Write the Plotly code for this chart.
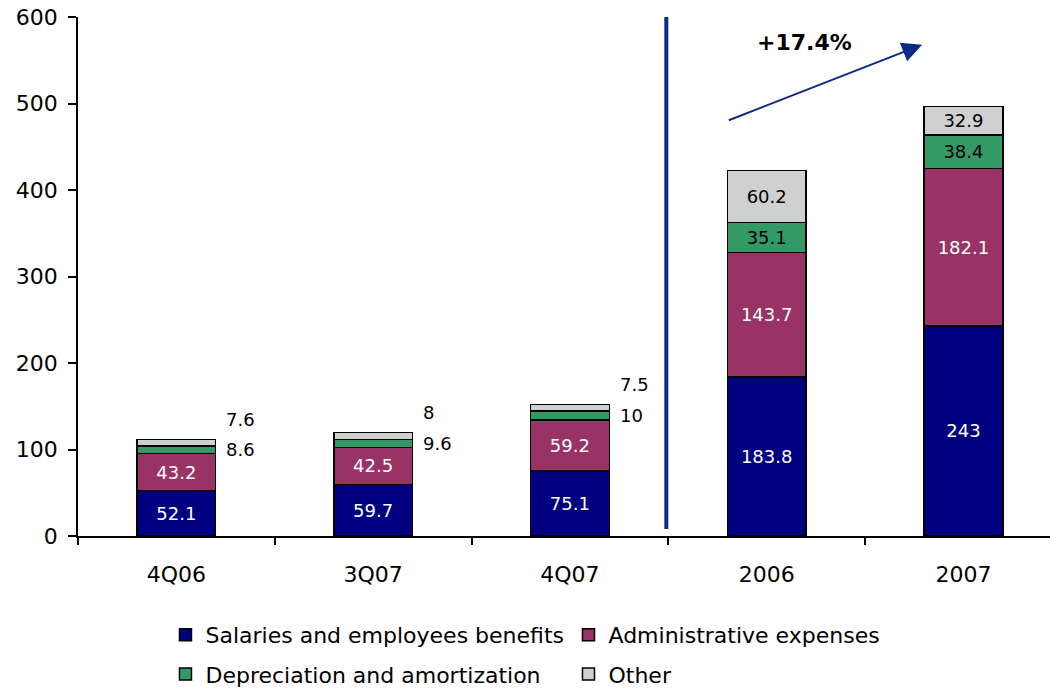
import plotly.graph_objects as go

# Operating expenses breakdown (quarterly and full-year)
categories = ["4Q06", "3Q07", "4Q07", "2006", "2007"]
salaries = [52.1, 59.7, 75.1, 183.8, 243]
admin = [43.2, 42.5, 59.2, 143.7, 182.1]
depreciation = [8.6, 9.6, 10, 35.1, 38.4]
other = [7.6, 8, 7.5, 60.2, 32.9]
growth_label = "+17.4%"

series_names = [
    "Salaries and employees benefits",
    "Administrative expenses",
    "Depreciation and amortization",
    "Other",
]
colors = ["#000080", "#993366", "#339966", "#D0D0D0"]
FONT = "DejaVu Sans"

quarters = categories[:3]


def fmt(v):
    return f"{v:g}"


fig = go.Figure()

series = [salaries, admin, depreciation, other]
for i, (name, vals, col) in enumerate(zip(series_names, series, colors)):
    if i < 2:
        text = [fmt(v) for v in vals]
        tcolor = "white"
    else:
        # small quarterly segments are labelled beside the bar instead
        text = ["" if c in quarters else fmt(v) for c, v in zip(categories, vals)]
        tcolor = "black"
    fig.add_trace(go.Bar(
        x=categories, y=vals, name=name,
        marker=dict(color=col, line=dict(color="black", width=1.5)),
        text=text, textposition="inside", insidetextanchor="middle",
        textangle=0, constraintext="none",
        textfont=dict(family=FONT, size=18, color=tcolor),
        width=0.4,
        legend="legend" if i < 2 else "legend2",
    ))

# side labels for depreciation / other on quarterly bars
for k, c in enumerate(quarters):
    base = salaries[k] + admin[k]
    dep_mid = base + depreciation[k] / 2
    oth_mid = base + depreciation[k] + other[k] / 2
    fig.add_annotation(x=c, y=dep_mid, text=fmt(depreciation[k]), showarrow=False,
                       xanchor="left", xshift=48, yshift=0,
                       font=dict(family=FONT, size=18, color="black"))
    fig.add_annotation(x=c, y=oth_mid, text=fmt(other[k]), showarrow=False,
                       xanchor="left", xshift=48, yshift=23,
                       font=dict(family=FONT, size=18, color="black"))

# separator between quarterly and annual figures
fig.add_shape(type="line", xref="x", yref="y", x0=2.49, x1=2.49, y0=8, y1=600,
              line=dict(color="#0B2A84", width=4))

# growth arrow
fig.add_annotation(x=3.79, y=568, ax=2.80, ay=480, xref="x", yref="y",
                   axref="x", ayref="y", text="", showarrow=True,
                   arrowhead=2, arrowsize=2, arrowwidth=2, arrowcolor="#0B2A84")
fig.add_annotation(x=3.19, y=570, xref="x", yref="y", text=f"<b>{growth_label}</b>",
                   showarrow=False, font=dict(family=FONT, size=22, color="black"))

legend_common = dict(orientation="h", x=0.09, xanchor="left", yanchor="top",
                     font=dict(family=FONT, size=22), entrywidth=358,
                     entrywidthmode="pixels", itemclick=False, traceorder="normal")

fig.update_layout(
    width=1050, height=690,
    margin=dict(l=78, r=0, t=17, b=154, autoexpand=False),
    barmode="stack",
    paper_bgcolor="white", plot_bgcolor="white",
    font=dict(family=FONT, color="black"),
    showlegend=True,
    legend=dict(y=-0.150, **legend_common),
    legend2=dict(y=-0.226, **legend_common),
    xaxis=dict(range=[-0.5, 4.44], showline=True, linecolor="black", linewidth=1.5,
               ticks="outside", ticklen=7, tickcolor="black", tickwidth=1.5,
               tickson="boundaries", showgrid=False, zeroline=False,
               ticklabelstandoff=18,
               tickfont=dict(family=FONT, size=22)),
    yaxis=dict(range=[0, 600], dtick=100, showline=True, linecolor="black", linewidth=1.5,
               ticks="outside", ticklen=8, tickcolor="black", tickwidth=1.5,
               showgrid=False, zeroline=False, ticklabelstandoff=6,
               tickfont=dict(family=FONT, size=22)),
)

fig.write_html("out.html")
